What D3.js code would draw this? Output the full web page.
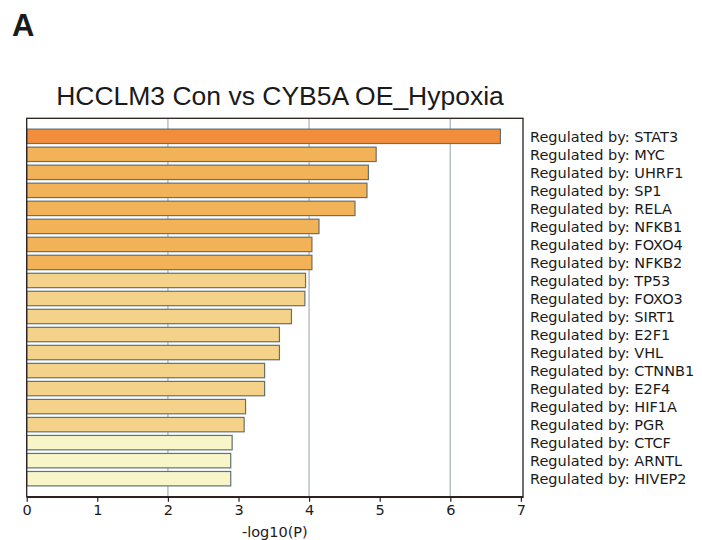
<!DOCTYPE html>
<html>
<head>
<meta charset="utf-8">
<script src="https://cdn.jsdelivr.net/npm/d3@7"></script>
<style>
  html, body { margin: 0; padding: 0; background: #fff; }
  svg { display: block; }
</style>
</head>
<body>
<svg id="chart" width="702" height="540"></svg>
<script>
const categories = ["STAT3","MYC","UHRF1","SP1","RELA","NFKB1","FOXO4","NFKB2","TP53","FOXO3",
                    "SIRT1","E2F1","VHL","CTNNB1","E2F4","HIF1A","PGR","CTCF","ARNTL","HIVEP2"];
const values = [6.71, 4.95, 4.84, 4.82, 4.65, 4.14, 4.04, 4.04, 3.95, 3.94,
                3.75, 3.58, 3.58, 3.37, 3.37, 3.10, 3.08, 2.91, 2.89, 2.89];
const xTicks = [0, 1, 2, 3, 4, 5, 6, 7];
const gridTicks = [2, 4, 6];
const labelPrefix = "Regulated by: ";
const title = "HCCLM3 Con vs CYB5A OE_Hypoxia";
const panelLabel = "A";
const xLabel = "-log10(P)";

const svg = d3.select("#chart");
const plot = { left: 26.7, right: 523, top: 118.3, bottom: 496.7 };

const x = d3.scaleLinear().domain([0, 7.03]).range([plot.left, plot.right]);
const y = d3.scaleBand().domain(categories).range([plot.top, plot.bottom])
  .paddingInner(0.2).paddingOuter(0.6);
const color = d3.scaleThreshold().domain([3, 4, 6])
  .range(["#f8f5c9", "#f4d289", "#f2b257", "#f28e3b"]);

// gridlines
svg.append("g").selectAll("line").data(gridTicks).join("line")
  .attr("x1", d => x(d)).attr("x2", d => x(d))
  .attr("y1", plot.top).attr("y2", plot.bottom)
  .attr("stroke", "#b4c0c8").attr("stroke-width", 1.5);

// bars
svg.append("g").selectAll("rect").data(categories).join("rect")
  .attr("x", x(0))
  .attr("y", d => y(d))
  .attr("width", (d, i) => x(values[i]) - x(0))
  .attr("height", y.bandwidth())
  .attr("fill", (d, i) => color(values[i]))
  .attr("stroke", "#5e727b").attr("stroke-width", 1.2);

// frame
svg.append("rect")
  .attr("x", plot.left).attr("y", plot.top)
  .attr("width", plot.right - plot.left).attr("height", plot.bottom - plot.top)
  .attr("fill", "none").attr("stroke", "#2a1f1c").attr("stroke-width", 1.3);

// x axis
const xAxis = d3.axisBottom(x).tickValues(xTicks).tickFormat(d3.format("d"))
  .tickSizeInner(5).tickSizeOuter(0).tickPadding(3);
const gx = svg.append("g").attr("transform", `translate(0,${plot.bottom})`).call(xAxis);
gx.select(".domain").attr("stroke", "#2a1f1c").attr("stroke-width", 1.6);
gx.selectAll(".tick line").attr("stroke", "#2a1f1c").attr("stroke-width", 1.2);
gx.selectAll(".tick text")
  .attr("font-family", "DejaVu Sans").attr("font-size", "14.5px").attr("fill", "#1a1a1a");

// right labels
svg.append("g").selectAll("text").data(categories).join("text")
  .attr("x", 530)
  .attr("y", d => y(d) + y.bandwidth() / 2)
  .attr("dy", "0.36em")
  .attr("font-family", "DejaVu Sans").attr("font-size", "14.5px").attr("fill", "#1a1a1a")
  .text(d => labelPrefix + d);

// x label
svg.append("text")
  .attr("x", (plot.left + plot.right) / 2).attr("y", 537)
  .attr("text-anchor", "middle")
  .attr("font-family", "DejaVu Sans").attr("font-size", "14.5px").attr("fill", "#1a1a1a")
  .text(xLabel);

// title
svg.append("text")
  .attr("x", 280).attr("y", 105)
  .attr("text-anchor", "middle")
  .attr("font-family", "Liberation Sans, Arial, sans-serif").attr("font-size", "26.5px").attr("fill", "#1a1a1a")
  .text(title);

// panel label
svg.append("text")
  .attr("x", 12).attr("y", 36)
  .attr("font-family", "Liberation Sans, Arial, sans-serif").attr("font-weight", "bold")
  .attr("font-size", "31px").attr("fill", "#1a1a1a")
  .text(panelLabel);
</script>
</body>
</html>
